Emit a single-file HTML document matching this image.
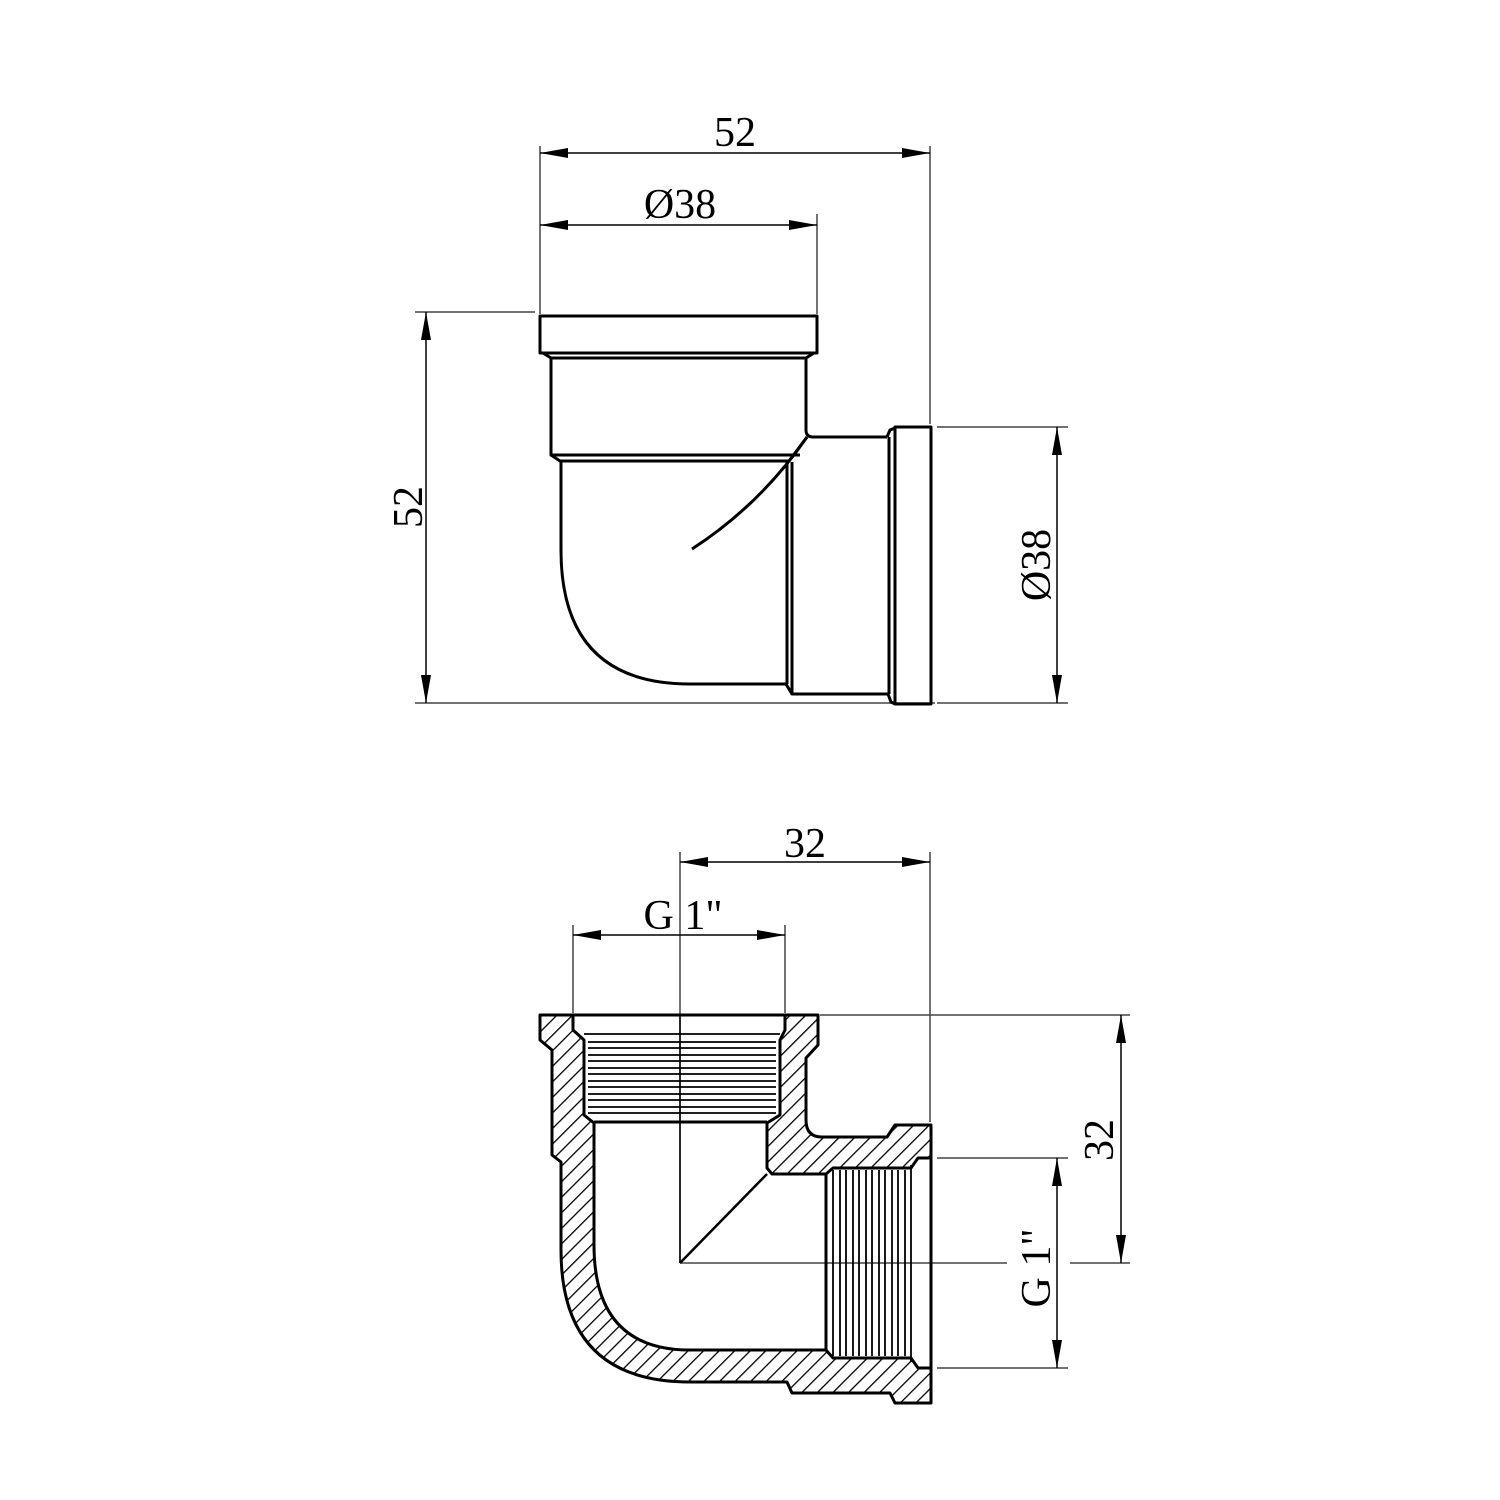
<!DOCTYPE html>
<html><head><meta charset="utf-8"><style>html,body{margin:0;padding:0;background:#fff}svg{display:block}</style></head>
<body>
<svg width="1500" height="1500" viewBox="0 0 1500 1500" xmlns="http://www.w3.org/2000/svg">
<defs>
<pattern id="h" patternUnits="userSpaceOnUse" width="11" height="11" patternTransform="rotate(45)">
<rect width="11" height="11" fill="#fff"/><line x1="0" y1="0" x2="0" y2="11" stroke="#000" stroke-width="2.6"/>
</pattern>
<marker id="a" viewBox="0 0 28 10" refX="28" refY="5" markerWidth="28" markerHeight="10" markerUnits="userSpaceOnUse" orient="auto-start-reverse"><path d="M0,0 L28,5 L0,10 Z" fill="#000"/></marker>
</defs>
<g font-family="Liberation Serif, serif" font-size="42" fill="#000">
<text x="735" y="146" text-anchor="middle">52</text>
<text x="680" y="218" text-anchor="middle">Ø38</text>
<text transform="translate(422,507) rotate(-90)" text-anchor="middle">52</text>
<text transform="translate(1050,565) rotate(-90)" text-anchor="middle">Ø38</text>
<text x="805" y="857" text-anchor="middle">32</text>
<text x="683" y="929" text-anchor="middle">G 1"</text>
<text transform="translate(1113,1140) rotate(-90)" text-anchor="middle">32</text>
<text transform="translate(1050,1268) rotate(-90)" text-anchor="middle">G 1"</text>
</g>
<g stroke="#444" stroke-width="1.5" fill="none">
<line x1="540" y1="146" x2="540" y2="314"/><line x1="817" y1="214" x2="817" y2="314"/><line x1="930" y1="146" x2="930" y2="424"/>
<line x1="415" y1="312" x2="535" y2="312"/><line x1="415" y1="703" x2="935" y2="703"/>
<line x1="937" y1="427" x2="1068" y2="427"/><line x1="937" y1="703" x2="1068" y2="703"/>
<line x1="680" y1="852" x2="680" y2="1263"/><line x1="930" y1="852" x2="930" y2="1122"/>
<line x1="573" y1="925" x2="573" y2="1013"/><line x1="785" y1="925" x2="785" y2="1013"/>
<line x1="820" y1="1015" x2="1130" y2="1015"/><line x1="937" y1="1158" x2="1068" y2="1158"/>
<line x1="680" y1="1263" x2="1007" y2="1263"/><line x1="1070" y1="1263" x2="1130" y2="1263"/>
<line x1="937" y1="1368" x2="1068" y2="1368"/>
</g>
<g stroke="#000" stroke-width="1.5" marker-start="url(#a)" marker-end="url(#a)">
<line x1="540" y1="153" x2="930" y2="153"/><line x1="540" y1="225" x2="817" y2="225"/>
<line x1="426" y1="312" x2="426" y2="703"/><line x1="1057" y1="427" x2="1057" y2="703"/>
<line x1="680" y1="862" x2="930" y2="862"/><line x1="573" y1="935" x2="785" y2="935"/>
<line x1="1121" y1="1015" x2="1121" y2="1263"/><line x1="1057" y1="1158" x2="1057" y2="1368"/>
</g>
<g stroke="#000" stroke-width="3" fill="none" stroke-linejoin="round">
<rect x="540" y="316" width="277" height="37"/>
<path d="M543,353 L551,358 L806,358 L814,353"/>
<path d="M551,358 L551,455 L800,455"/>
<path d="M806,358 L806,430 Q806,437 813,437 L887,437"/>
<path d="M551,455 L560,461 L789,461 L807,437"/>
<path d="M561,461 L561,550 Q561,684 690,684 L786,684"/>
<line x1="787" y1="462" x2="787" y2="684"/>
<path d="M792,462 L792,694 L888,694"/>
<path d="M786,684 L792,694"/>
<path d="M692,549 Q760,505 807,437"/>
<rect x="895" y="427" width="36" height="277"/>
<path d="M887,437 L890,430 L895,428 M888,694 L891,702 L895,704"/>
<line x1="889" y1="437" x2="889" y2="694"/>
</g>
<path fill="url(#h)" fill-rule="evenodd" stroke="#000" stroke-width="3" stroke-linejoin="round" d="
M540,1015 L818,1015 L818,1045 L806,1058 L806,1120 Q806,1137 822,1137 L887,1137 L895,1125 L931,1125 L931,1403 L895,1403 L890,1393 L792,1393 L787,1382 L690,1382 Q561,1382 561,1250 L561,1162 L552,1155 L552,1050 L540,1040 Z
M573,1015 L785,1015 L785,1030 L780,1040 L780,1115 L767,1123 L767,1168 L772,1174 L826,1174 L833,1168 L911,1168 L918,1158 L931,1158 L931,1368 L918,1368 L911,1358 L833,1358 L826,1350 L690,1350 Q594,1350 594,1245 L594,1123 L584,1115 L584,1040 L573,1030 Z"/>
<g stroke="#000" stroke-width="1.8">
<line x1="584" y1="1034" x2="780" y2="1034"/>
<line x1="588" y1="1042" x2="776" y2="1042"/><line x1="588" y1="1048" x2="776" y2="1048"/>
<line x1="588" y1="1055" x2="776" y2="1055"/><line x1="588" y1="1061" x2="776" y2="1061"/>
<line x1="588" y1="1068" x2="776" y2="1068"/><line x1="588" y1="1074" x2="776" y2="1074"/>
<line x1="588" y1="1081" x2="776" y2="1081"/><line x1="588" y1="1087" x2="776" y2="1087"/>
<line x1="588" y1="1094" x2="776" y2="1094"/><line x1="588" y1="1100" x2="776" y2="1100"/>
<line x1="588" y1="1107" x2="776" y2="1107"/><line x1="588" y1="1113" x2="776" y2="1113"/>
<line x1="594" y1="1122" x2="767" y2="1122" stroke-width="3"/>
<line x1="826" y1="1174" x2="826" y2="1350" stroke-width="3"/>
<line x1="833" y1="1170" x2="833" y2="1356"/><line x1="840" y1="1170" x2="840" y2="1356"/>
<line x1="846" y1="1170" x2="846" y2="1356"/><line x1="853" y1="1170" x2="853" y2="1356"/>
<line x1="859" y1="1170" x2="859" y2="1356"/><line x1="866" y1="1170" x2="866" y2="1356"/>
<line x1="872" y1="1170" x2="872" y2="1356"/><line x1="879" y1="1170" x2="879" y2="1356"/>
<line x1="885" y1="1170" x2="885" y2="1356"/><line x1="892" y1="1170" x2="892" y2="1356"/>
<line x1="898" y1="1170" x2="898" y2="1356"/><line x1="905" y1="1170" x2="905" y2="1356"/>
<line x1="911" y1="1165" x2="911" y2="1362"/>
<line x1="680" y1="1015" x2="680" y2="1263" stroke-width="1.5"/>
<line x1="680" y1="1263" x2="767" y2="1174" stroke-width="2.5"/>
</g>
</svg>
</body></html>
